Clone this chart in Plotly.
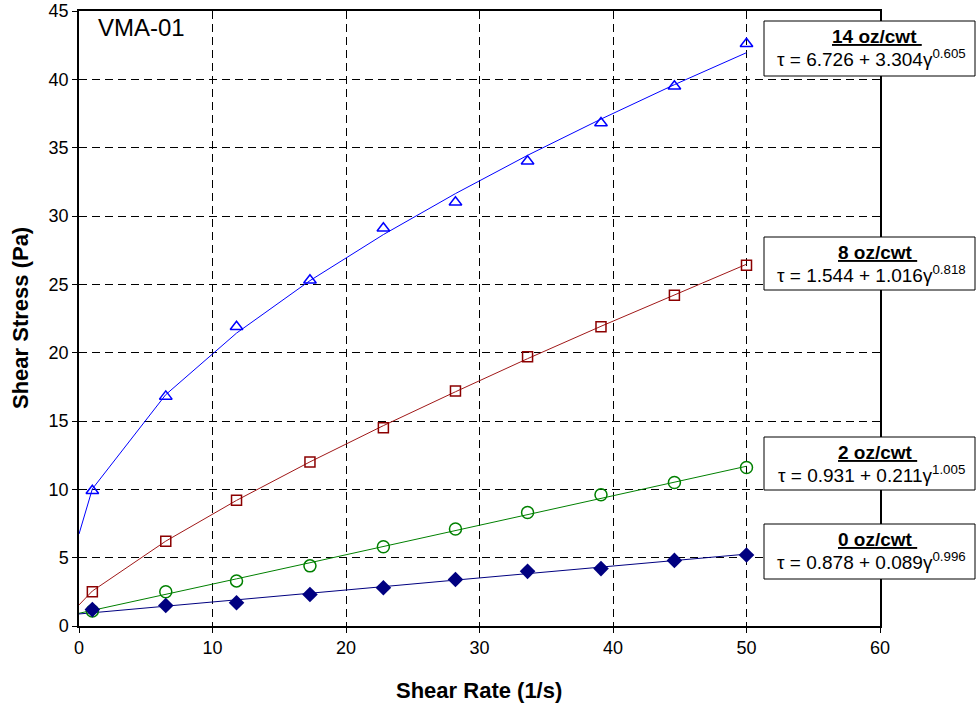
import plotly.graph_objects as go

# ---- data ----
shear_rate = [1.0, 6.5, 11.8, 17.3, 22.8, 28.2, 33.6, 39.1, 44.6, 50.0]
stress_14oz = [9.9, 16.8, 21.9, 25.3, 29.1, 31.0, 34.0, 36.8, 39.5, 42.6]
stress_8oz = [2.5, 6.2, 9.2, 12.0, 14.5, 17.2, 19.7, 21.9, 24.2, 26.4]
stress_2oz = [1.1, 2.5, 3.3, 4.4, 5.8, 7.1, 8.3, 9.6, 10.5, 11.6]
stress_0oz = [1.2, 1.5, 1.7, 2.3, 2.8, 3.4, 4.0, 4.2, 4.8, 5.2]

fit_rate = [0.0, 1.0, 6.5, 11.8, 17.3, 22.8, 28.2, 33.6, 39.1, 44.6, 50.0]
fit_14oz = [6.73, 10.03, 16.93, 21.43, 25.27, 28.64, 31.64, 34.44, 37.09, 39.61, 41.95]
fit_8oz = [1.54, 2.56, 6.21, 9.19, 12.01, 14.66, 17.14, 19.56, 21.93, 24.25, 26.47]
fit_2oz = [0.93, 1.14, 2.30, 3.45, 4.63, 5.82, 6.98, 8.15, 9.33, 10.52, 11.69]
fit_0oz = [0.88, 0.97, 1.45, 1.92, 2.40, 2.88, 3.36, 3.83, 4.31, 4.79, 5.26]

labels = ["14 oz/cwt", "8 oz/cwt", "2 oz/cwt", "0 oz/cwt"]
equations = [
    "τ = 6.726 + 3.304γ<sup>0.605</sup>",
    "τ = 1.544 + 1.016γ<sup>0.818</sup>",
    "τ = 0.931 + 0.211γ<sup>1.005</sup>",
    "τ = 0.878 + 0.089γ<sup>0.996</sup>",
]

x_ticks = [0, 10, 20, 30, 40, 50, 60]
y_ticks = [0, 5, 10, 15, 20, 25, 30, 35, 40, 45]

FONT = "Liberation Sans, Arial, sans-serif"

fig = go.Figure()

series = [
    (stress_14oz, fit_14oz, "#0000FF", dict(symbol="triangle-up-open", size=11, color="#0000FF", line=dict(width=1.5, color="#0000FF"))),
    (stress_8oz, fit_8oz, "#A01818", dict(symbol="square-open", size=10, color="#8B0000", line=dict(width=1.5, color="#8B0000"))),
    (stress_2oz, fit_2oz, "#008000", dict(symbol="circle-open", size=12, color="#008000", line=dict(width=1.5, color="#008000"))),
    (stress_0oz, fit_0oz, "#000080", dict(symbol="diamond", size=12, color="#000080", line=dict(width=0))),
]

for meas, fit, lcol, mk in series:
    fig.add_trace(go.Scatter(x=fit_rate, y=fit, mode="lines",
                             line=dict(color=lcol, width=1), showlegend=False,
                             hoverinfo="skip"))
for meas, fit, lcol, mk in series:
    fig.add_trace(go.Scatter(x=shear_rate, y=meas, mode="markers",
                             marker=mk, showlegend=False))

# equation boxes (paper coords: plot area spans x 79..880, y 11..626 px)
def px_x(p):
    return (p - 79) / 801.0

def px_y(p):
    return (626 - p) / 615.0

boxes = [(21, 76), (237, 290), (437, 490), (524, 579)]
for (top, bot), lab, eq in zip(boxes, labels, equations):
    fig.add_shape(type="rect", xref="paper", yref="paper",
                  x0=px_x(764), x1=px_x(975), y0=px_y(bot), y1=px_y(top),
                  line=dict(color="black", width=1), fillcolor="white", layer="above")
    fig.add_annotation(xref="paper", yref="paper", x=px_x(877), y=px_y(top + 15),
                       text="<b><u>" + lab + "\u00a0</u></b>", showarrow=False,
                       font=dict(family=FONT, size=19, color="black"),
                       xanchor="center", yanchor="middle")
    fig.add_annotation(xref="paper", yref="paper", x=px_x(871), y=px_y(top + 37),
                       text=eq, showarrow=False,
                       font=dict(family=FONT, size=19, color="black"),
                       xanchor="center", yanchor="middle")

fig.add_annotation(xref="paper", yref="paper", x=px_x(96), y=px_y(28),
                   text="VMA-01", showarrow=False,
                   font=dict(family=FONT, size=24, color="black"),
                   xanchor="left", yanchor="middle")

# axis titles
fig.add_annotation(xref="paper", yref="paper", x=px_x(479), y=px_y(690),
                   text="<b>Shear Rate (1/s)</b>", showarrow=False,
                   font=dict(family=FONT, size=22, color="black"),
                   xanchor="center", yanchor="middle")
fig.add_annotation(xref="paper", yref="paper", x=px_x(20), y=px_y(318),
                   text="<b>Shear Stress (Pa)</b>", showarrow=False, textangle=-90,
                   font=dict(family=FONT, size=22, color="black"),
                   xanchor="center", yanchor="middle")

axis_common = dict(
    showline=True, linecolor="black", linewidth=1.5, mirror=True,
    showgrid=True, gridcolor="black", gridwidth=1, griddash="8px,5px",
    zeroline=False, ticks="outside", ticklen=5, tickcolor="black",
    tickfont=dict(family=FONT, size=18, color="black"),
    automargin=False,
)

fig.update_xaxes(range=[0, 60], tickvals=x_ticks, **axis_common)
fig.update_yaxes(range=[0, 45], tickvals=y_ticks, **axis_common)

fig.update_layout(
    width=979, height=703,
    margin=dict(l=79, r=99, t=11, b=77),
    plot_bgcolor="white", paper_bgcolor="white",
    font=dict(family=FONT, color="black"),
)

fig.write_html("out.html", config={"displayModeBar": False},
               post_script="document.body.style.margin='0';document.body.style.overflow='hidden';")
